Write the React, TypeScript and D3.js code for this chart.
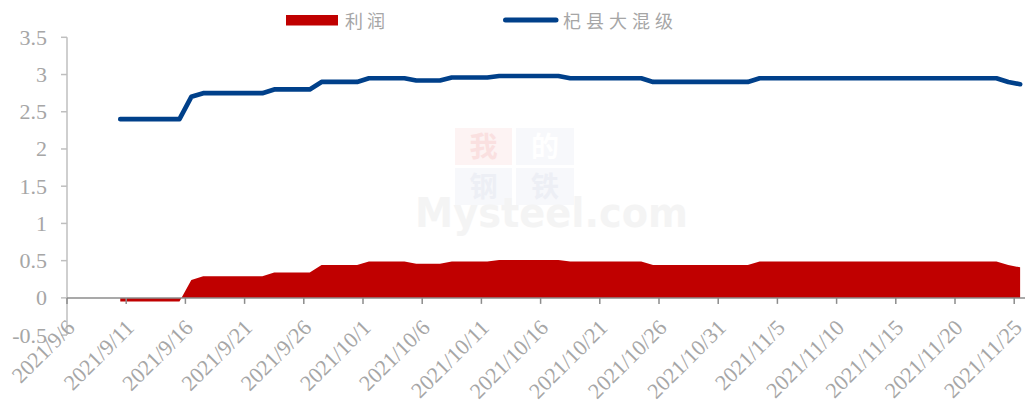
import React from "react";
import * as d3 from "d3";

// Categories: daily dates 2021-09-10 .. 2021-11-25
const startDate = new Date(Date.UTC(2021, 8, 10));
const endDate = new Date(Date.UTC(2021, 10, 26));
const dates: Date[] = d3.utcDay.range(startDate, endDate);

const seriesNames = ["利润", "杞县大混级"];

// 利润 (area)
const profit: number[] = [
  -0.05, -0.05, -0.05, -0.05, -0.05, -0.05,
  0.24,
  0.29, 0.29, 0.29, 0.29, 0.29, 0.29,
  0.34, 0.34, 0.34, 0.34,
  0.44, 0.44, 0.44, 0.44,
  0.49, 0.49, 0.49, 0.49,
  0.46, 0.46, 0.46,
  0.49, 0.49, 0.49, 0.49,
  0.51, 0.51, 0.51, 0.51, 0.51, 0.51,
  0.49, 0.49, 0.49, 0.49, 0.49, 0.49, 0.49,
  0.44, 0.44, 0.44, 0.44, 0.44, 0.44, 0.44, 0.44, 0.44,
  0.49, 0.49, 0.49, 0.49, 0.49, 0.49, 0.49, 0.49, 0.49, 0.49, 0.49,
  0.49, 0.49, 0.49, 0.49, 0.49, 0.49, 0.49, 0.49, 0.49, 0.49,
  0.44,
  0.41,
];

// 杞县大混级 (line)
const price: number[] = [
  2.4, 2.4, 2.4, 2.4, 2.4, 2.4,
  2.7,
  2.75, 2.75, 2.75, 2.75, 2.75, 2.75,
  2.8, 2.8, 2.8, 2.8,
  2.9, 2.9, 2.9, 2.9,
  2.95, 2.95, 2.95, 2.95,
  2.92, 2.92, 2.92,
  2.96, 2.96, 2.96, 2.96,
  2.98, 2.98, 2.98, 2.98, 2.98, 2.98,
  2.95, 2.95, 2.95, 2.95, 2.95, 2.95, 2.95,
  2.9, 2.9, 2.9, 2.9, 2.9, 2.9, 2.9, 2.9, 2.9,
  2.95, 2.95, 2.95, 2.95, 2.95, 2.95, 2.95, 2.95, 2.95, 2.95, 2.95,
  2.95, 2.95, 2.95, 2.95, 2.95, 2.95, 2.95, 2.95, 2.95, 2.95,
  2.9,
  2.87,
];

const yTicks: number[] = [-0.5, 0, 0.5, 1, 1.5, 2, 2.5, 3, 3.5];
const xTickDates: Date[] = d3.utcDay
  .range(new Date(Date.UTC(2021, 8, 6)), new Date(Date.UTC(2021, 10, 26)))
  .filter((_, i) => i % 5 === 0);

const W = 1025;
const H = 406;
const RED = "#C00000";
const BLUE = "#00408A";
const LABEL = "#A6A6A6";

export default function App() {
  const x = d3
    .scaleUtc()
    .domain([new Date(Date.UTC(2021, 8, 6)), new Date(Date.UTC(2021, 10, 26))])
    .range([67, 67 + 81 * 11.84]);
  const y = d3.scaleLinear().domain([-0.5, 3.5]).range([335.1, 37.3]);
  const mid = (d: Date) => x(d3.utcHour.offset(d, 12));

  const area = d3
    .area<number>()
    .x((_, i) => mid(dates[i]))
    .y0(y(0))
    .y1((v) => y(v));
  const line = d3
    .line<number>()
    .x((_, i) => mid(dates[i]))
    .y((v) => y(v));

  const fmt = (d: Date) =>
    `${d.getUTCFullYear()}/${d.getUTCMonth() + 1}/${d.getUTCDate()}`;
  const y0 = y(0);
  const serif: React.CSSProperties = { fontFamily: "'Liberation Serif', serif" };
  const cjk: React.CSSProperties = { fontFamily: "'Noto Sans CJK SC', sans-serif" };

  return (
    <svg
      width={W}
      height={H}
      style={{ position: "absolute", left: 0, top: 0 }}
      xmlns="http://www.w3.org/2000/svg"
    >
      <rect x={0} y={0} width={W} height={H} fill="#fff" />

      {/* watermark */}
      <g>
        <rect x={455} y={128} width={57} height={37} fill="#FDF3F3" />
        <rect x={516} y={128} width={58} height={37} fill="#F7F8FB" />
        <rect x={455} y={168} width={57} height={37} fill="#F7F8FB" />
        <rect x={516} y={168} width={58} height={37} fill="#F7F8FB" />
        <text x={483.5} y={157} textAnchor="middle" style={cjk} fontSize={28} fontWeight={700} fill="#FAE0E0">我</text>
        <text x={545} y={157} textAnchor="middle" style={cjk} fontSize={28} fontWeight={700} fill="#FFFFFF">的</text>
        <text x={483.5} y={197} textAnchor="middle" style={cjk} fontSize={28} fontWeight={700} fill="#EDEFF5">钢</text>
        <text x={545} y={197} textAnchor="middle" style={cjk} fontSize={28} fontWeight={700} fill="#EDEFF5">铁</text>
        <text
          x={415}
          y={227}
          style={{ fontFamily: "'DejaVu Sans', sans-serif" }}
          fontSize={40}
          fontWeight={700}
          fill="#F4F4F4"
          textLength={273}
          lengthAdjust="spacingAndGlyphs"
        >
          Mysteel.com
        </text>
      </g>

      {/* profit area */}
      <path d={area(profit) || ""} fill={RED} />

      {/* y axis */}
      <line x1={67} x2={67} y1={y(3.5)} y2={y(-0.5)} stroke="#BFBFBF" strokeWidth={1.5} />
      {yTicks.map((t) => (
        <g key={t}>
          <line x1={61} x2={67} y1={y(t)} y2={y(t)} stroke="#BFBFBF" strokeWidth={1.5} />
          <text
            x={47}
            y={y(t)}
            dy="0.34em"
            textAnchor="end"
            style={serif}
            fontSize={22}
            fill={LABEL}
          >
            {t}
          </text>
        </g>
      ))}

      {/* x axis */}
      <line x1={67} x2={W} y1={y0} y2={y0} stroke="#8C8C8C" strokeWidth={1.5} />
      {xTickDates.map((d) => (
        <g key={d.toISOString()}>
          <line x1={x(d)} x2={x(d)} y1={y0} y2={y0 + 6} stroke="#8C8C8C" strokeWidth={1.5} />
          <text
            transform={`translate(${x(d) + 9},${329}) rotate(-45)`}
            textAnchor="end"
            style={serif}
            fontSize={22}
            fill={LABEL}
          >
            {fmt(d)}
          </text>
        </g>
      ))}

      {/* price line */}
      <path
        d={line(price) || ""}
        fill="none"
        stroke={BLUE}
        strokeWidth={4.7}
        strokeLinecap="round"
        strokeLinejoin="round"
      />

      {/* legend */}
      <rect x={286} y={15} width={52} height={10.5} fill={RED} />
      <text x={345} y={28} style={cjk} fontSize={18} letterSpacing={4} fill={LABEL}>
        {seriesNames[0]}
      </text>
      <line x1={505.5} x2={556} y1={20} y2={20} stroke={BLUE} strokeWidth={5} strokeLinecap="round" />
      <text x={563} y={28} style={cjk} fontSize={18} letterSpacing={5} fill={LABEL}>
        {seriesNames[1]}
      </text>
    </svg>
  );
}
